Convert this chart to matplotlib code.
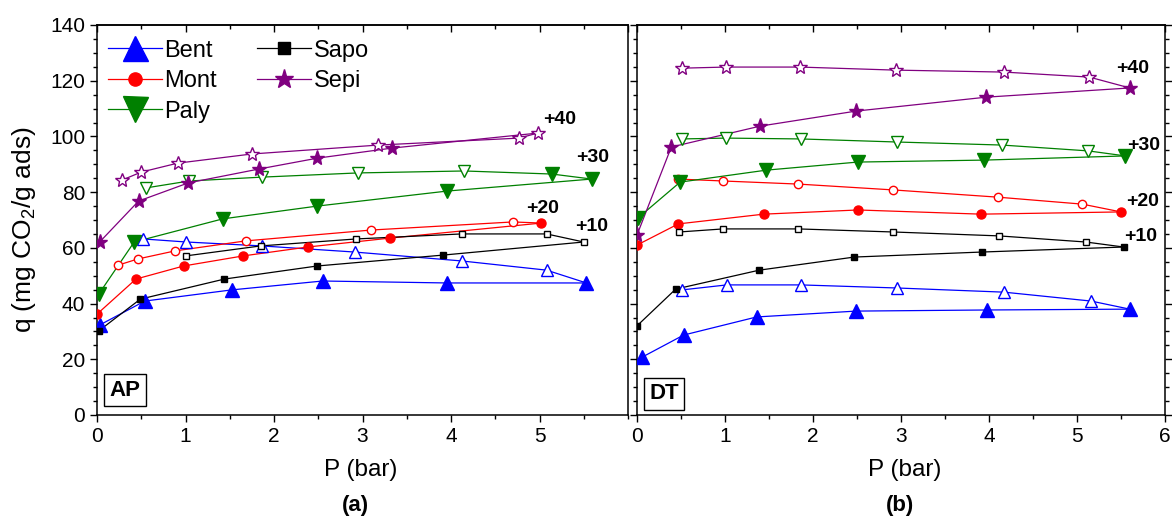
import matplotlib
matplotlib.use("Agg")
import matplotlib.pyplot as plt
from matplotlib.lines import Line2D
from matplotlib.ticker import MultipleLocator

plt.rcParams['font.family'] = ['Liberation Sans', 'DejaVu Sans']
plt.rcParams['mathtext.fontset'] = 'custom'
plt.rcParams['mathtext.rm'] = 'Liberation Sans'
plt.rcParams['mathtext.it'] = 'Liberation Sans:italic'

# ---- Daten, Adsorption (ads) und Desorption (des) ----
# Panel (a) AP
ap_bent_ads_p = [0.03, 0.54, 1.52, 2.55, 3.95, 5.53]
ap_bent_ads_q = [32.3, 40.9, 44.9, 48.1, 47.4, 47.4]
ap_bent_des_p = [5.53, 5.08, 4.12, 2.91, 1.86, 1.01, 0.52]
ap_bent_des_q = [47.4, 52.0, 55.3, 58.5, 60.7, 62.1, 63.2]

ap_mont_ads_p = [0.0, 0.44, 0.98, 1.65, 2.38, 3.31, 5.02]
ap_mont_ads_q = [36.2, 48.8, 53.5, 57.1, 60.3, 63.5, 68.9]
ap_mont_des_p = [5.02, 4.70, 3.10, 1.68, 0.88, 0.46, 0.24]
ap_mont_des_q = [68.9, 69.3, 66.4, 62.5, 58.9, 56.0, 53.8]

ap_paly_ads_p = [0.02, 0.42, 1.42, 2.49, 3.96, 5.59]
ap_paly_ads_q = [43.4, 62.1, 70.4, 75.0, 80.4, 84.7]
ap_paly_des_p = [5.59, 5.14, 4.15, 2.95, 1.87, 1.04, 0.55]
ap_paly_des_q = [84.7, 86.5, 87.6, 86.9, 85.4, 84.0, 81.5]

ap_sapo_ads_p = [0.02, 0.49, 1.44, 2.49, 3.91, 5.50]
ap_sapo_ads_q = [30.2, 41.6, 48.8, 53.5, 57.4, 62.1]
ap_sapo_des_p = [5.50, 5.08, 4.12, 2.93, 1.85, 1.0]
ap_sapo_des_q = [62.1, 65.0, 65.0, 63.2, 60.7, 57.1]

ap_sepi_ads_p = [0.03, 0.47, 1.03, 1.83, 2.49, 3.33, 4.98]
ap_sepi_ads_q = [62.1, 76.8, 83.3, 88.3, 92.2, 95.8, 101.2]
ap_sepi_des_p = [4.98, 4.77, 3.18, 1.75, 0.91, 0.50, 0.28]
ap_sepi_des_q = [101.2, 99.4, 96.9, 93.7, 90.4, 87.2, 84.3]

# Panel (b) DT
dt_bent_ads_p = [0.06, 0.53, 1.36, 2.49, 3.98, 5.6]
dt_bent_ads_q = [20.8, 28.7, 35.2, 37.3, 37.7, 38.0]
dt_bent_des_p = [5.6, 5.16, 4.17, 2.95, 1.86, 1.02, 0.51]
dt_bent_des_q = [38.0, 40.9, 44.1, 45.6, 46.7, 46.7, 44.9]

dt_mont_ads_p = [0.0, 0.47, 1.44, 2.51, 3.91, 5.5]
dt_mont_ads_q = [61.0, 68.6, 72.1, 73.6, 72.1, 72.9]
dt_mont_des_p = [5.5, 5.06, 4.10, 2.91, 1.83, 0.98, 0.47]
dt_mont_des_q = [72.9, 75.7, 78.2, 80.8, 82.9, 84.0, 84.7]

dt_paly_ads_p = [0.01, 0.49, 1.47, 2.51, 3.94, 5.55]
dt_paly_ads_q = [70.7, 83.6, 87.9, 90.8, 91.5, 93.0]
dt_paly_des_p = [5.55, 5.13, 4.15, 2.95, 1.86, 1.01, 0.51]
dt_paly_des_q = [93.0, 94.8, 96.9, 98.0, 99.1, 99.4, 99.1]

dt_sapo_ads_p = [0.0, 0.44, 1.39, 2.47, 3.92, 5.53]
dt_sapo_ads_q = [32.0, 45.2, 52.0, 56.7, 58.5, 60.3]
dt_sapo_des_p = [5.53, 5.10, 4.11, 2.91, 1.83, 0.98, 0.48]
dt_sapo_des_q = [60.3, 62.1, 64.3, 65.7, 66.8, 66.8, 65.7]

dt_sepi_ads_p = [0.0, 0.39, 1.40, 2.49, 3.97, 5.6]
dt_sepi_ads_q = [64.6, 96.2, 103.7, 109.1, 114.1, 117.4]
dt_sepi_des_p = [5.6, 5.14, 4.17, 2.94, 1.85, 1.01, 0.51]
dt_sepi_des_q = [117.4, 121.3, 123.1, 123.8, 124.9, 124.9, 124.5]

materialien = ["Bent", "Mont", "Paly", "Sapo", "Sepi"]
versatz_text = ["+40", "+30", "+20", "+10"]
ap_versatz_pos = [(5.23, 105.9), (5.6, 92.6), (5.03, 74.3), (5.59, 67.5)]
dt_versatz_pos = [(5.63, 124.5), (5.76, 96.6), (5.75, 76.5), (5.72, 63.9)]

farbe = {"Bent": "#0000ff", "Mont": "#ff0000", "Paly": "#008000", "Sapo": "#000000", "Sepi": "#800080"}
marker = {"Bent": "^", "Mont": "o", "Paly": "v", "Sapo": "s", "Sepi": "*"}
groesse = {"Bent": 10, "Mont": 6.5, "Paly": 10, "Sapo": 5, "Sepi": 11}
offen_groesse = {"Bent": 9, "Mont": 6, "Paly": 9, "Sapo": 5, "Sepi": 10}
legende_groesse = {"Bent": 18, "Mont": 9.5, "Paly": 18, "Sapo": 8.5, "Sepi": 14}


def kurve(ax, name, ads_p, ads_q, des_p, des_q, n_voll):
    c = farbe[name]
    m = marker[name]
    ax.plot(ads_p, ads_q, "-", color=c, lw=0.9, zorder=2)
    ax.plot(des_p, des_q, "-", color=c, lw=0.9, zorder=2)
    ax.plot(ads_p[:-1], ads_q[:-1], m, color=c, ms=groesse[name], ls="none", zorder=3)
    ax.plot(des_p[:n_voll], des_q[:n_voll], m, color=c, ms=groesse[name], ls="none", zorder=3)
    ax.plot(des_p[n_voll:], des_q[n_voll:], m, mfc="white", mec=c, mew=1.0,
            ms=offen_groesse[name], ls="none", zorder=3)


def achse(ax, xmax_label):
    ax.set_xlim(0, 6)
    ax.set_ylim(0, 140)
    ax.set_xticks(range(0, xmax_label + 1))
    ax.xaxis.set_minor_locator(MultipleLocator(0.5))
    ax.yaxis.set_major_locator(MultipleLocator(20))
    ax.yaxis.set_minor_locator(MultipleLocator(5))
    ax.tick_params(which="major", direction="out", length=5, width=1, labelsize=15)
    ax.tick_params(which="minor", direction="out", length=3, width=1)
    for s in ax.spines.values():
        s.set_linewidth(1.1)
    oben = ax.secondary_xaxis("top")
    oben.set_xticks(range(0, 7))
    oben.xaxis.set_minor_locator(MultipleLocator(0.5))
    oben.tick_params(which="major", direction="in", length=5, width=1, labeltop=False)
    oben.tick_params(which="minor", direction="in", length=3, width=1)
    oben.spines["top"].set_linewidth(1.1)


fig = plt.figure(figsize=(11.72, 5.18), dpi=100)
ax1 = fig.add_axes([97 / 1172, 103 / 518, 531 / 1172, 390 / 518])
ax2 = fig.add_axes([637 / 1172, 103 / 518, 528 / 1172, 390 / 518])

kurve(ax1, "Bent", ap_bent_ads_p, ap_bent_ads_q, ap_bent_des_p, ap_bent_des_q, 1)
kurve(ax1, "Mont", ap_mont_ads_p, ap_mont_ads_q, ap_mont_des_p, ap_mont_des_q, 1)
kurve(ax1, "Paly", ap_paly_ads_p, ap_paly_ads_q, ap_paly_des_p, ap_paly_des_q, 2)
kurve(ax1, "Sapo", ap_sapo_ads_p, ap_sapo_ads_q, ap_sapo_des_p, ap_sapo_des_q, 0)
kurve(ax1, "Sepi", ap_sepi_ads_p, ap_sepi_ads_q, ap_sepi_des_p, ap_sepi_des_q, 0)

kurve(ax2, "Bent", dt_bent_ads_p, dt_bent_ads_q, dt_bent_des_p, dt_bent_des_q, 1)
kurve(ax2, "Mont", dt_mont_ads_p, dt_mont_ads_q, dt_mont_des_p, dt_mont_des_q, 1)
kurve(ax2, "Paly", dt_paly_ads_p, dt_paly_ads_q, dt_paly_des_p, dt_paly_des_q, 1)
kurve(ax2, "Sapo", dt_sapo_ads_p, dt_sapo_ads_q, dt_sapo_des_p, dt_sapo_des_q, 1)
kurve(ax2, "Sepi", dt_sepi_ads_p, dt_sepi_ads_q, dt_sepi_des_p, dt_sepi_des_q, 1)

achse(ax1, 5)
achse(ax2, 6)
ax2.tick_params(axis="y", which="both", left=True, right=True, labelleft=False)

for t, (x, y) in zip(versatz_text, ap_versatz_pos):
    ax1.text(x, y, t, fontsize=14, fontweight="bold", ha="center", va="center")
for t, (x, y) in zip(versatz_text, dt_versatz_pos):
    ax2.text(x, y, t, fontsize=14, fontweight="bold", ha="center", va="center")

box = dict(boxstyle="square,pad=0.25", fc="white", ec="black", lw=1.0)
ax1.text(0.053, 0.064, "AP", transform=ax1.transAxes, fontsize=16, fontweight="bold",
         ha="center", va="center", bbox=box)
ax2.text(0.051, 0.054, "DT", transform=ax2.transAxes, fontsize=16, fontweight="bold",
         ha="center", va="center", bbox=box)

griffe = []
for name in materialien:
    griffe.append(Line2D([], [], color=farbe[name], lw=0.9, marker=marker[name],
                         ms=legende_groesse[name], label=name))
ax1.legend(handles=griffe, ncol=2, loc="upper left", frameon=False, fontsize=17,
           handlelength=2.3, handletextpad=0.1, labelspacing=0.36, columnspacing=1.7,
           borderaxespad=0.05, bbox_to_anchor=(0.0, 0.99))

fig.text(24 / 1172, 1 - 230 / 518, "q (mg CO$_2$/g ads)", rotation=90, fontsize=19,
         ha="center", va="center")
fig.text(361 / 1172, 1 - 470 / 518, "P (bar)", fontsize=17.5, ha="center", va="center")
fig.text(905 / 1172, 1 - 470 / 518, "P (bar)", fontsize=17.5, ha="center", va="center")
fig.text(355 / 1172, 1 - 506 / 518, "(a)", fontsize=16, fontweight="bold", ha="center", va="center")
fig.text(900 / 1172, 1 - 506 / 518, "(b)", fontsize=16, fontweight="bold", ha="center", va="center")

fig.savefig("out.png", dpi=100)
